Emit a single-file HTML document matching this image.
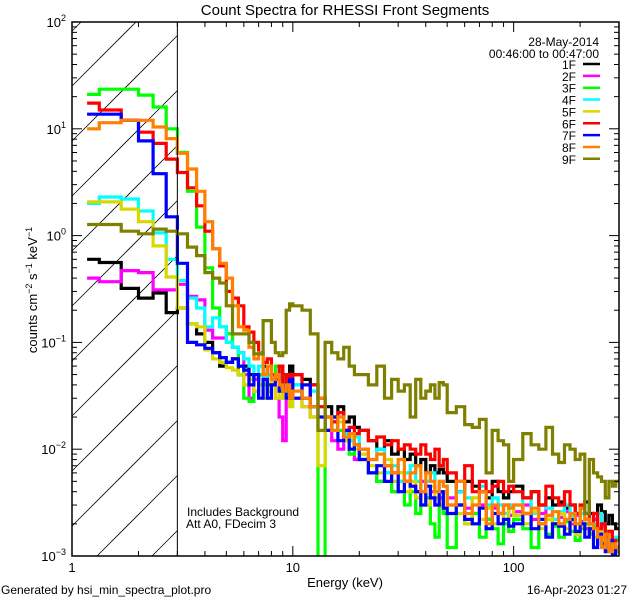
<!DOCTYPE html>
<html><head><meta charset="utf-8"><style>
html,body{margin:0;padding:0;background:#fff;width:640px;height:600px;overflow:hidden;}
svg{display:block;font-family:"Liberation Sans",sans-serif;overflow:hidden;}
</style></head><body>
<svg id="chart" width="640" height="600" viewBox="0 0 640 600" xmlns="http://www.w3.org/2000/svg">
<rect width="640" height="600" fill="#fff"/>
<defs><clipPath id="plotclip"><rect x="72" y="22" width="547" height="534"/></clipPath></defs>
<text x="345" y="15" font-size="15" text-anchor="middle">Count Spectra for RHESSI Front Segments</text>
<g id="hatch"></g>
<g id="series" clip-path="url(#plotclip)"></g>
<g id="axes"></g>
<text x="345" y="587" font-size="13" text-anchor="middle">Energy (keV)</text>
<text transform="translate(37,290) rotate(-90)" font-size="13" text-anchor="middle">counts cm<tspan dy="-5" font-size="9">−2</tspan><tspan dy="5"> s</tspan><tspan dy="-5" font-size="9">−1</tspan><tspan dy="5"> keV</tspan><tspan dy="-5" font-size="9">−1</tspan></text>
<text x="1" y="594" font-size="12">Generated by hsi_min_spectra_plot.pro</text>
<text x="627" y="594" font-size="12" text-anchor="end">16-Apr-2023 01:27</text>
<text x="187" y="516" font-size="12">Includes Background</text>
<text x="186" y="528" font-size="12">Att A0, FDecim 3</text>
<g id="legend"></g>
</svg>
<script>
const detectors = ["1F","2F","3F","4F","5F","6F","7F","8F","9F"];
const colors = ["#000000","#ff00ff","#00ff00","#00ffff","#d8d800","#ff0000","#0000ff","#ff8000","#808000"];
const lowEdges = [1.17,1.33,1.67,2,2.33,2.67,3];
const s1F = [0.6,0.56,0.32,0.26,0.29,0.19,
0.21,0.15,0.12,0.1,0.08,0.06,0.065,0.07,0.05,0.06,0.05,0.045,0.05,0.06,0.04,0.05,0.045,0.06,0.05,0.04,0.06,
0.05,0.045,0.04,0.03,0.025,0.02,0.025,0.018,0.02,0.016,
0.015,0.012,0.01,0.012,0.009,0.01,0.008,0.009,0.007,0.008,0.006,0.007,0.006,0.0065,0.006,
0.005,0.004,0.005,0.0045,0.004,0.0035,0.005,0.004,0.0035,0.004,
0.0045,0.0035,0.004,0.003,0.0035,0.003,0.0032,0.0028,0.003,0.0025,0.0028,0.0032,0.0025,0.0022,0.003,0.0026,0.002,0.0024,0.002,0.0018];
const s2F = [0.4,0.37,0.47,0.45,0.31,0.31,
0.35,0.27,0.25,0.13,0.11,0.11,0.12,0.09,0.08,0.05,0.03,0.045,0.05,0.04,0.035,0.05,0.03,0.02,0.012,0.03,0.04,
0.03,0.025,0.02,0.03,0.015,0.012,0.01,0.015,0.012,0.008,
0.01,0.006,0.005,0.007,0.004,0.006,0.005,0.0045,0.004,0.005,0.0035,0.004,0.003,0.0035,0.004,
0.0035,0.003,0.0028,0.0025,0.003,0.0022,0.0028,0.0025,0.003,0.0024,
0.0026,0.003,0.0022,0.0025,0.0028,0.002,0.0023,0.0026,0.002,0.0024,0.0021,0.0018,0.002,0.0022,0.0016,0.0019,0.0015,0.0013,0.0012,0.0014];
const s3F = [21,23.5,23.5,20.7,16,10,
6,2.6,1.2,0.5,0.21,0.14,0.12,0.09,0.06,0.03,0.028,0.035,0.05,0.04,0.03,0.045,0.06,0.05,0.03,0.04,0.05,
0.04,0.03,0.025,0.0008,0.02,0.018,0.015,0.012,0.009,0.011,
0.008,0.006,0.005,0.006,0.004,0.005,0.003,0.004,0.0025,0.003,0.0035,0.002,0.0015,0.003,0.0025,
0.0012,0.003,0.002,0.0025,0.0015,0.0022,0.0018,0.0013,0.002,0.0017,
0.0022,0.0018,0.0012,0.002,0.0016,0.0019,0.0015,0.0021,0.0017,0.0014,0.0018,0.002,0.0016,0.0019,0.0015,0.0013,0.0017,0.0012,0.0011,0.0014];
const s4F = [2.0,2.3,2.2,1.7,1.06,0.6,
0.38,0.26,0.21,0.14,0.17,0.14,0.1,0.09,0.08,0.07,0.06,0.05,0.06,0.045,0.05,0.04,0.045,0.05,0.035,0.04,0.03,
0.04,0.03,0.035,0.025,0.02,0.018,0.02,0.014,0.012,0.013,
0.009,0.008,0.01,0.006,0.007,0.005,0.006,0.007,0.005,0.004,0.005,0.006,0.004,0.005,0.0045,
0.003,0.004,0.0035,0.003,0.0045,0.003,0.0035,0.003,0.0025,0.003,
0.003,0.0035,0.0025,0.003,0.0028,0.0022,0.0026,0.003,0.0024,0.002,0.0025,0.0022,0.0018,0.002,0.0025,0.002,0.0016,0.0014,0.0013,0.0015];
const s5F = [2.07,2.07,1.77,1.35,0.8,0.41,
0.21,0.15,0.14,0.085,0.07,0.065,0.058,0.055,0.05,0.04,0.045,0.035,0.04,0.03,0.035,0.045,0.03,0.035,0.03,0.04,0.025,
0.03,0.025,0.02,0.007,0.02,0.015,0.018,0.012,0.013,0.01,
0.009,0.007,0.006,0.008,0.005,0.006,0.004,0.005,0.0035,0.004,0.003,0.0045,0.0035,0.003,0.004,
0.003,0.0025,0.002,0.0035,0.0022,0.0028,0.002,0.0025,0.0022,0.0028,
0.0024,0.002,0.0026,0.0018,0.0022,0.002,0.0025,0.0018,0.0021,0.0016,0.0019,0.0022,0.0017,0.0015,0.0018,0.0014,0.0016,0.0012,0.0013,0.0011];
const s6F = [17.4,15,12,9.3,7.3,5.2,
3.9,2.8,1.9,1.1,0.75,0.52,0.3,0.26,0.22,0.14,0.125,0.1,0.08,0.065,0.07,0.05,0.045,0.06,0.04,0.05,0.04,
0.05,0.03,0.04,0.025,0.02,0.018,0.022,0.015,0.016,0.014,
0.015,0.012,0.013,0.011,0.012,0.01,0.011,0.01,0.009,0.011,0.009,0.008,0.01,0.007,0.008,
0.006,0.005,0.007,0.004,0.005,0.004,0.0045,0.005,0.004,0.0045,
0.004,0.0035,0.004,0.003,0.0045,0.0035,0.003,0.004,0.003,0.0025,0.003,0.0025,0.002,0.0025,0.0018,0.002,0.0015,0.0017,0.0014,0.0012];
const s7F = [13.7,13.7,12,7.7,3.8,1.5,
0.55,0.1,0.095,0.088,0.08,0.072,0.065,0.07,0.06,0.055,0.04,0.05,0.03,0.045,0.03,0.04,0.05,0.035,0.04,0.03,0.045,
0.03,0.04,0.025,0.02,0.015,0.02,0.012,0.015,0.01,0.011,
0.008,0.006,0.007,0.005,0.006,0.004,0.005,0.0045,0.004,0.003,0.0045,0.0035,0.003,0.004,0.0028,
0.0025,0.003,0.0022,0.002,0.0028,0.0018,0.0025,0.002,0.0022,0.0019,
0.002,0.0025,0.0018,0.0022,0.0015,0.002,0.0019,0.0016,0.0022,0.0017,0.002,0.0015,0.0018,0.0012,0.0016,0.0013,0.0011,0.0014,0.001,0.0012];
const s8F = [10,11.4,12,12,10.4,8.1,
5.9,4.2,2.6,1.35,0.75,0.55,0.4,0.22,0.14,0.13,0.09,0.07,0.08,0.05,0.06,0.045,0.05,0.04,0.035,0.04,0.03,
0.035,0.03,0.025,0.03,0.02,0.015,0.02,0.013,0.014,0.011,
0.01,0.008,0.009,0.007,0.006,0.008,0.005,0.006,0.007,0.004,0.006,0.005,0.004,0.005,0.0045,
0.003,0.005,0.0025,0.003,0.004,0.002,0.003,0.0025,0.003,0.0028,
0.003,0.0025,0.0028,0.002,0.0024,0.0026,0.002,0.0022,0.0025,0.002,0.0028,0.0022,0.002,0.0018,0.0015,0.0012,0.0016,0.0011,0.0013,0.0012];
const s9F = [1.27,1.27,1.1,1.04,1.15,1.1,
1.04,0.78,0.65,0.45,0.4,0.36,0.22,0.12,0.12,0.12,0.1,0.078,0.078,0.16,0.16,0.1,0.08,0.075,0.08,0.2,0.23,
0.22,0.2,0.12,0.015,0.1,0.08,0.07,0.09,0.06,0.05,
0.05,0.04,0.06,0.03,0.045,0.035,0.04,0.02,0.045,0.03,0.035,0.04,0.03,0.042,0.04,
0.022,0.025,0.017,0.016,0.019,0.006,0.015,0.012,0.011,0.005,
0.008,0.014,0.011,0.01,0.016,0.009,0.0075,0.011,0.01,0.008,0.009,0.0025,0.008,0.006,0.0055,0.005,0.0035,0.005,0.0045,0.005];
const seriesValues = [s1F,s2F,s3F,s4F,s5F,s6F,s7F,s8F,s9F];
const yTickExps = [2,1,0,-1,-2,-3];
const xTickLabels = ["1","10","100"];
const xTickValues = [1,10,100];

const edges = lowEdges.slice();
for (let k = 1; k <= 21; k++) edges.push(3 + k/3);
for (let e = 11; e <= 20; e++) edges.push(e);
for (let e = 22; e <= 50; e += 2) edges.push(e);
for (let e = 55; e <= 100; e += 5) edges.push(e);
for (let e = 110; e <= 300; e += 10) edges.push(e);

const X0 = 72, X1 = 619, Y0 = 22, Y1 = 556;
const XMIN = 1, XMAX = 300, YMIN = 0.001, YMAX = 100;
function xs(v){ return X0 + (Math.log10(v) - Math.log10(XMIN)) / (Math.log10(XMAX) - Math.log10(XMIN)) * (X1 - X0); }
function ys(v){ const c = Math.max(v, YMIN*0.7); return Y0 + (Math.log10(YMAX) - Math.log10(c)) / (Math.log10(YMAX) - Math.log10(YMIN)) * (Y1 - Y0); }
const NS = "http://www.w3.org/2000/svg";
function mk(tag, attrs, parent){ const el = document.createElementNS(NS, tag); for (const k in attrs) el.setAttribute(k, attrs[k]); parent.appendChild(el); return el; }

// hatch lines, clipped analytically to the region x in [X0, HX], y in [Y0, Y1]
const hatch = document.getElementById('hatch');
const HX = xs(3);
for (let k = -4; k < 14; k++) {
  const c = 86 + 55*k; // y = c - (x - X0)
  let xa = X0, xb = HX;
  xa = Math.max(xa, X0 + (c - Y1));
  xb = Math.min(xb, X0 + (c - Y0));
  if (xb <= xa) continue;
  const ln = mk('line', {x1: xa, y1: c - (xa - X0), x2: xb, y2: c - (xb - X0), stroke: '#000', 'stroke-width': 0.8}, hatch);
  
  
}

const sg = document.getElementById('series');
seriesValues.forEach((vals, i) => {
  const n = Math.min(vals.length, edges.length - 1);
  let d = 'M' + xs(edges[0]).toFixed(1) + ',' + ys(vals[0]).toFixed(1);
  for (let b = 0; b < n; b++) {
    const yv = ys(vals[b]).toFixed(1);
    if (b > 0) d += ' L' + xs(edges[b]).toFixed(1) + ',' + yv;
    d += ' L' + xs(edges[b+1]).toFixed(1) + ',' + yv;
  }
  const p = mk('path', {d: d, fill: 'none', stroke: colors[i], 'stroke-width': 3.2, 'stroke-linejoin': 'miter'}, sg);
  
  
});

const ax = document.getElementById('axes');
const frame = mk('rect', {x: X0, y: Y0, width: X1 - X0, height: Y1 - Y0, fill: 'none', stroke: '#000', 'stroke-width': 1.5}, ax);


const cut = mk('line', {x1: HX, y1: Y0, x2: HX, y2: Y1, stroke: '#000', 'stroke-width': 1}, ax);


for (let dec = 1; dec <= 100; dec *= 10) {
  for (let m = 1; m <= 9; m++) {
    const v = dec*m; if (v > XMAX) break;
    const x = xs(v), len = m === 1 ? 10 : 5;
    const t1 = mk('line', {x1: x, y1: Y1, x2: x, y2: Y1 - len, stroke: '#000', 'stroke-width': 1}, ax);
    
    
    const t2 = mk('line', {x1: x, y1: Y0, x2: x, y2: Y0 + len, stroke: '#000', 'stroke-width': 1}, ax);
    
    
  }
}
xTickValues.forEach((v, i) => {
  const t = mk('text', {x: xs(v), y: 572, 'font-size': 13, 'text-anchor': 'middle'}, ax);
  t.textContent = xTickLabels[i];
  
  
});
yTickExps.forEach(e => {
  const base = Math.pow(10, e);
  for (let m = 1; m <= 9; m++) {
    const v = base*m; if (v > YMAX) break;
    const y = ys(v), len = m === 1 ? 10 : 5;
    const t1 = mk('line', {x1: X0, y1: y, x2: X0 + len, y2: y, stroke: '#000', 'stroke-width': 1}, ax);
    
    
    const t2 = mk('line', {x1: X1, y1: y, x2: X1 - len, y2: y, stroke: '#000', 'stroke-width': 1}, ax);
    
    
  }
  const lbl = mk('text', {x: 66, y: ys(base) + 5, 'font-size': 13, 'text-anchor': 'end'}, ax);
  
  
  lbl.appendChild(document.createTextNode('10'));
  const sup = mk('tspan', {dy: -6, 'font-size': 9}, lbl);
  sup.textContent = String(e).replace('-', '−');
});

const lg = document.getElementById('legend');
const d1 = mk('text', {x: 599, y: 46, 'font-size': 12, 'text-anchor': 'end'}, lg);
d1.textContent = '28-May-2014';


const d2 = mk('text', {x: 599, y: 58, 'font-size': 12, 'text-anchor': 'end'}, lg);
d2.textContent = '00:46:00 to 00:47:00';


detectors.forEach((name, i) => {
  const y = 64 + i*11.85;
  const g = mk('g', {}, lg);
  
  
  const t = mk('text', {x: 576, y: y + 5, 'font-size': 12, 'text-anchor': 'end'}, g);
  t.textContent = name;
  mk('line', {x1: 583, y1: y, x2: 600, y2: y, stroke: colors[i], 'stroke-width': 2.5}, g);
});
</script>
</body></html>
